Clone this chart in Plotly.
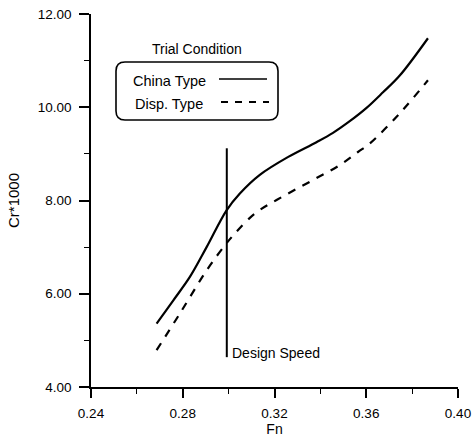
import plotly.graph_objects as go

# ---- data ----
fn_china = [0.2686, 0.2759, 0.2831, 0.2904, 0.2991, 0.3049, 0.3136, 0.3260,
            0.3383, 0.3455, 0.3528, 0.3600, 0.3673, 0.3746, 0.3869]
cr_china = [5.36, 5.86, 6.36, 7.00, 7.79, 8.15, 8.55, 8.935,
            9.25, 9.45, 9.70, 9.98, 10.32, 10.68, 11.48]

fn_disp = [0.2686, 0.2788, 0.2904, 0.2984, 0.3027, 0.3114, 0.3209, 0.3368,
           0.3485, 0.3564, 0.3615, 0.3746, 0.3869]
cr_disp = [4.79, 5.58, 6.50, 7.04, 7.29, 7.72, 8.01, 8.44,
           8.76, 9.04, 9.22, 9.87, 10.58]

design_fn = 0.2992
design_cr = [4.64, 9.12]

x_ticks = [0.24, 0.28, 0.32, 0.36, 0.40]
x_ticklabels = ["0.24", "0.28", "0.32", "0.36", "0.40"]
y_ticks = [4, 6, 8, 10, 12]
y_ticklabels = ["4.00", "6.00", "8.00", "10.00", "12.00"]

series_names = ["China Type", "Disp. Type"]

# ---- layout geometry (pixels) ----
W, H = 474, 438
L, R, T, B = 91, 16, 14, 51
PW, PH = W - L - R, H - T - B


def px(x):
    return (x - L) / PW


def py(y):
    return (H - B - y) / PH


FONT = "Liberation Sans, Arial, sans-serif"

fig = go.Figure()
fig.add_trace(go.Scatter(x=fn_china, y=cr_china, mode="lines", name=series_names[0],
                         line=dict(color="black", width=2.2, shape="spline", smoothing=1),
                         showlegend=False))
fig.add_trace(go.Scatter(x=fn_disp, y=cr_disp, mode="lines", name=series_names[1],
                         line=dict(color="black", width=2.2, dash="8px,8px", shape="spline",
                                   smoothing=1),
                         showlegend=False))
fig.add_trace(go.Scatter(x=[design_fn, design_fn], y=design_cr, mode="lines",
                         line=dict(color="black", width=2), showlegend=False))

fig.add_annotation(x=design_fn, y=4.73, xref="x", yref="y", text="Design Speed",
                   showarrow=False, xanchor="left", xshift=3,
                   font=dict(family=FONT, size=14, color="black"))

fig.add_annotation(x=0.286, y=11.25, xref="x", yref="y", text="Trial Condition",
                   showarrow=False, xanchor="center",
                   font=dict(family=FONT, size=14, color="black"))

# legend box with rounded corners (pixel coords -> paper)
x0, x1, y0, y1, r = 116, 278, 62, 120, 9
path = (f"M {px(x0 + r)} {py(y0)} L {px(x1 - r)} {py(y0)} "
        f"Q {px(x1)} {py(y0)} {px(x1)} {py(y0 + r)} "
        f"L {px(x1)} {py(y1 - r)} Q {px(x1)} {py(y1)} {px(x1 - r)} {py(y1)} "
        f"L {px(x0 + r)} {py(y1)} Q {px(x0)} {py(y1)} {px(x0)} {py(y1 - r)} "
        f"L {px(x0)} {py(y0 + r)} Q {px(x0)} {py(y0)} {px(x0 + r)} {py(y0)} Z")
fig.add_shape(type="path", path=path, xref="paper", yref="paper",
              line=dict(color="black", width=1.6))

fig.add_annotation(x=px(131), y=py(81), xref="paper", yref="paper", text=series_names[0],
                   showarrow=False, xanchor="left", yanchor="middle",
                   font=dict(family=FONT, size=14.5, color="black"))
fig.add_annotation(x=px(133), y=py(104), xref="paper", yref="paper", text=series_names[1],
                   showarrow=False, xanchor="left", yanchor="middle",
                   font=dict(family=FONT, size=14.5, color="black"))
fig.add_shape(type="line", xref="paper", yref="paper", x0=px(219), x1=px(267),
              y0=py(79), y1=py(79), line=dict(color="black", width=1.6))
fig.add_shape(type="line", xref="paper", yref="paper", x0=px(221), x1=px(269),
              y0=py(102), y1=py(102), line=dict(color="black", width=1.8, dash="7px,7px"))

fig.update_layout(
    width=W, height=H,
    margin=dict(l=L, r=R, t=T, b=B),
    paper_bgcolor="white", plot_bgcolor="white",
    font=dict(family=FONT, size=13, color="black"),
)
fig.update_xaxes(range=[0.24, 0.40], tickvals=x_ticks, ticktext=x_ticklabels,
                 automargin=False,
                 showgrid=False, zeroline=False, showline=True, linecolor="black", linewidth=1.6,
                 ticks="outside", ticklen=9, tickwidth=1.6, tickcolor="black",
                 ticklabelstandoff=4,
                 minor=dict(dtick=0.02, ticks="outside", ticklen=5, tickwidth=1.2, tickcolor="black"),
                 title=dict(text="Fn", standoff=1, font=dict(size=14)),
                 tickfont=dict(size=13.5))
fig.update_yaxes(range=[4, 12], tickvals=y_ticks, ticktext=y_ticklabels,
                 automargin=False,
                 showgrid=False, zeroline=False, showline=True, linecolor="black", linewidth=1.6,
                 ticks="outside", ticklen=10, tickwidth=1.6, tickcolor="black",
                 ticklabelstandoff=5,
                 minor=dict(dtick=1, ticks="outside", ticklen=5, tickwidth=1.2, tickcolor="black"),
                 title=dict(text="Cr*1000", standoff=14, font=dict(size=15)),
                 tickfont=dict(size=13.5))

fig.write_html("out.html")
